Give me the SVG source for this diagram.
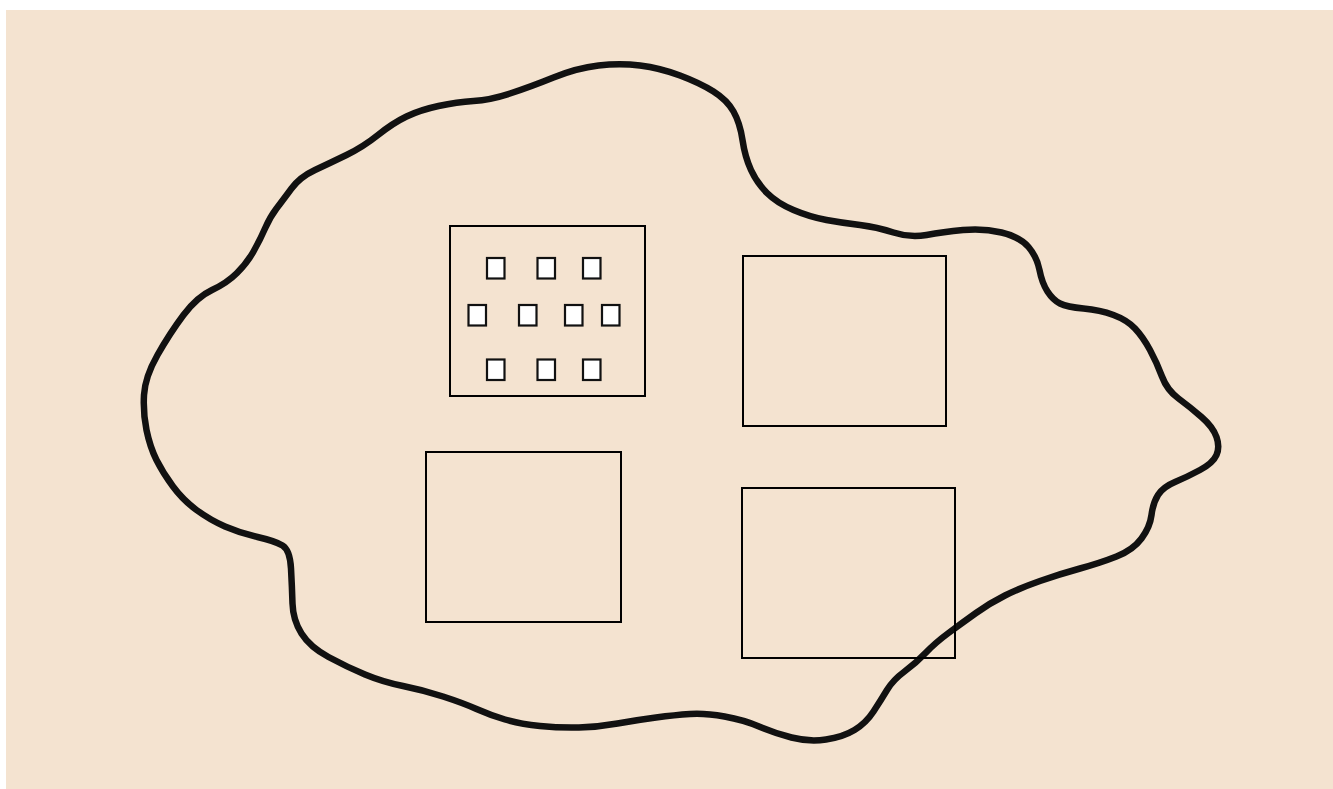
<svg xmlns="http://www.w3.org/2000/svg" width="1333" height="789" viewBox="0 0 1333 789">
  <style>
    .box { fill: none; stroke: #000; stroke-width: 2; }
    .sq { fill: #fff; stroke: #111; stroke-width: 2.2; }
    .cloud { fill: none; stroke: #111; stroke-width: 6.5; stroke-linejoin: round; stroke-linecap: round; }
  </style>
  <rect x="0" y="0" width="1333" height="789" fill="#ffffff"/>
  <rect x="6" y="10" width="1327" height="779" fill="#F4E3D0"/>
  <g id="cloud">
    <path class="cloud" d="M 144,395 Q 145,377 157.5,355 Q 170,333 183.5,315 Q 197,297 212,290 Q 227,283 237,273 Q 247,263 253.5,251.5 Q 260,240 265,228.5 Q 270,217 276.5,208.5 Q 283,200 291.5,188.5 Q 300,177 315,170 Q 330,163 346.5,155 Q 363,147 378,135 Q 393,123 406.5,116.5 Q 420,110 438.5,106 Q 457,102 473.5,101 Q 490,100 510,93.5 Q 530,87 553.5,77.5 Q 577,68 598.5,65.5 Q 620,63 640,65.5 Q 660,68 680,75.5 Q 700,83 713.5,91.5 Q 727,100 733.5,111.5 Q 740,123 742.5,140 Q 745,157 751,170 Q 757,183 767,193 Q 777,203 793.5,210 Q 810,217 826.5,220 Q 843,223 860,225 Q 877,227 893.5,232.5 Q 910,238 926.5,235 Q 943,232 963,230 Q 983,228 1001.5,232.5 Q 1020,237 1028.5,247 Q 1037,257 1039.5,270 Q 1042,283 1047.5,291.5 Q 1053,300 1060,303.5 Q 1067,307 1083.5,308.5 Q 1100,310 1113.5,315 Q 1127,320 1135,328.5 Q 1143,337 1150,350 Q 1157,363 1162,376.5 Q 1167,390 1178.5,398.5 Q 1190,407 1201.5,417 Q 1213,427 1216.5,437 Q 1220,447 1216.5,455 Q 1213,463 1200,470 Q 1187,477 1175,482 Q 1163,487 1158,495 Q 1153,503 1151.5,515 Q 1150,527 1141.5,538.5 Q 1133,550 1116.5,556.5 Q 1100,563 1080,568.5 Q 1060,574 1040,581 Q 1020,588 1005,595.5 Q 990,603 976,613 Q 962,623 948.5,633 Q 935,643 925.5,653 Q 916,663 904.5,671.5 Q 893,680 887,690 Q 881,700 873.5,711.5 Q 866,723 854.5,730 Q 843,737 826,739.5 Q 809,742 791.5,737.5 Q 774,733 759,726.5 Q 744,720 724.5,716.5 Q 705,713 690,714 Q 675,715 656,717.5 Q 637,720 617.5,723.5 Q 598,727 579,727.5 Q 560,728 540,726 Q 520,724 505,719.5 Q 490,715 476.5,709 Q 463,703 443,696.5 Q 423,690 403,686 Q 383,682 365,674.5 Q 347,667 328.5,657 Q 310,647 301.5,633.5 Q 293,620 292.5,603.5 Q 292,587 291,568.5 Q 290,550 282.5,545.5 Q 275,541 257.5,537 Q 240,533 225,526.5 Q 210,520 196.5,510 Q 183,500 173,486.5 Q 163,473 156.5,460 Q 150,447 146.5,430 Q 143,413 144,395 Z"/>
  </g>
  <g id="box-1">
    <rect class="box" x="450" y="226" width="195" height="170"/>
    <rect class="sq" x="487" y="258" width="17.5" height="20.5"/>
    <rect class="sq" x="537.5" y="258" width="17.5" height="20.5"/>
    <rect class="sq" x="583" y="258" width="17.5" height="20.5"/>
    <rect class="sq" x="468.5" y="305" width="17.5" height="20.5"/>
    <rect class="sq" x="519" y="305" width="17.5" height="20.5"/>
    <rect class="sq" x="565" y="305" width="17.5" height="20.5"/>
    <rect class="sq" x="602" y="305" width="17.5" height="20.5"/>
    <rect class="sq" x="487" y="359.5" width="17.5" height="20.5"/>
    <rect class="sq" x="537.5" y="359.5" width="17.5" height="20.5"/>
    <rect class="sq" x="583" y="359.5" width="17.5" height="20.5"/>
  </g>
  <g id="box-2">
    <rect class="box" x="743" y="256" width="203" height="170"/>
  </g>
  <g id="box-3">
    <rect class="box" x="426" y="452" width="195" height="170"/>
  </g>
  <g id="box-4">
    <rect class="box" x="742" y="488" width="213" height="170"/>
  </g>
</svg>
